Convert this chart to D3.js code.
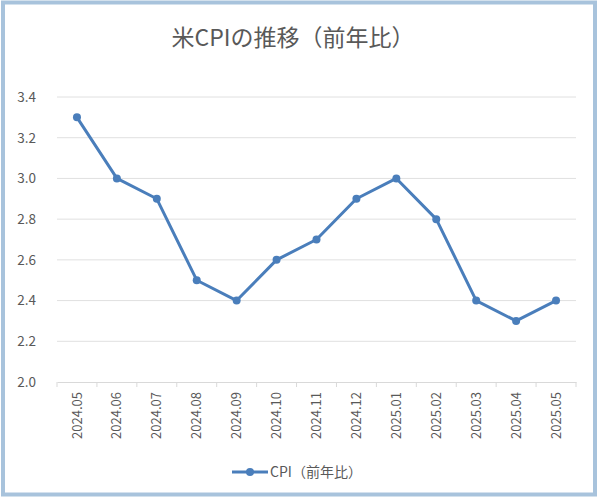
<!DOCTYPE html>
<html><head><meta charset="utf-8">
<script src="https://cdn.jsdelivr.net/npm/d3@7"></script>
<style>body{margin:0;background:#fff}svg{display:block}</style>
</head><body>
<svg id="c" width="600" height="499"></svg>
<script>
const title = "米CPIの推移（前年比）";
const seriesName = "CPI（前年比）";
const categories = ["2024.05","2024.06","2024.07","2024.08","2024.09","2024.10","2024.11","2024.12","2025.01","2025.02","2025.03","2025.04","2025.05"];
const values = [3.3,3.0,2.9,2.5,2.4,2.6,2.7,2.9,3.0,2.8,2.4,2.3,2.4];
const yTicks = [2.0,2.2,2.4,2.6,2.8,3.0,3.2,3.4];

const svg = d3.select("#c");
const font = "'Noto Sans CJK JP', 'Noto Sans', sans-serif";
svg.append("rect").attr("x",3).attr("y",2.5).attr("width",592).attr("height",492)
  .attr("fill","#fff").attr("stroke","#a8c3dc").attr("stroke-width",4);

const L=57,R=576,T=97,B=382;
const x = d3.scaleBand().domain(categories).range([L,R]);
const y = d3.scaleLinear().domain([2.0,3.4]).range([B,T]);

svg.append("text").attr("x",293).attr("y",46).attr("text-anchor","middle")
  .attr("font-family",font).attr("font-size",23).attr("fill","#595959").text(title);

const grid = svg.append("g");
grid.selectAll("line").data(yTicks.slice(1)).join("line")
  .attr("x1",L).attr("x2",R).attr("y1",d=>y(d)).attr("y2",d=>y(d))
  .attr("stroke","#e0e0e0").attr("stroke-width",1);

const ya = svg.append("g").attr("transform",`translate(${L-21},0)`)
  .call(d3.axisLeft(y).tickValues(yTicks).tickFormat(d3.format(".1f")).tickSize(0).tickPadding(0));
ya.select(".domain").remove();
ya.selectAll("text").attr("font-family",font).attr("font-size",13.5).attr("fill","#595959");

const xa = svg.append("g").attr("transform",`translate(0,${B})`)
  .call(d3.axisBottom(x).tickSize(0).tickPadding(0));
xa.select(".domain").attr("stroke","#d9d9d9");
xa.selectAll("text").attr("font-family",font).attr("font-size",13).attr("fill","#595959")
  .attr("transform","rotate(-90)").attr("text-anchor","end").attr("dy","0.35em").attr("x",-10).attr("y",0);
const bounds = categories.map(c=>x(c)).concat([R]);
svg.append("g").selectAll("line").data(bounds).join("line")
  .attr("x1",d=>d).attr("x2",d=>d).attr("y1",B).attr("y2",B+5).attr("stroke","#d9d9d9");

const cx = (d,i)=>x(categories[i])+x.bandwidth()/2;
const line = d3.line().x((d,i)=>cx(d,i)).y(d=>y(d));
const color = "#4a7ebb";
svg.append("path").datum(values).attr("d",line).attr("fill","none")
  .attr("stroke",color).attr("stroke-width",3).attr("stroke-linejoin","round");
svg.append("g").selectAll("circle").data(values).join("circle")
  .attr("cx",(d,i)=>cx(d,i)).attr("cy",d=>y(d)).attr("r",4).attr("fill",color);

const lg = svg.append("g");
lg.append("line").attr("x1",232).attr("x2",268).attr("y1",472).attr("y2",472).attr("stroke",color).attr("stroke-width",3);
lg.append("circle").attr("cx",250).attr("cy",472).attr("r",4).attr("fill",color);
lg.append("text").attr("x",270).attr("y",472).attr("dy","0.35em").attr("font-family",font)
  .attr("font-size",14).attr("fill","#595959").text(seriesName);
</script>
</body></html>
